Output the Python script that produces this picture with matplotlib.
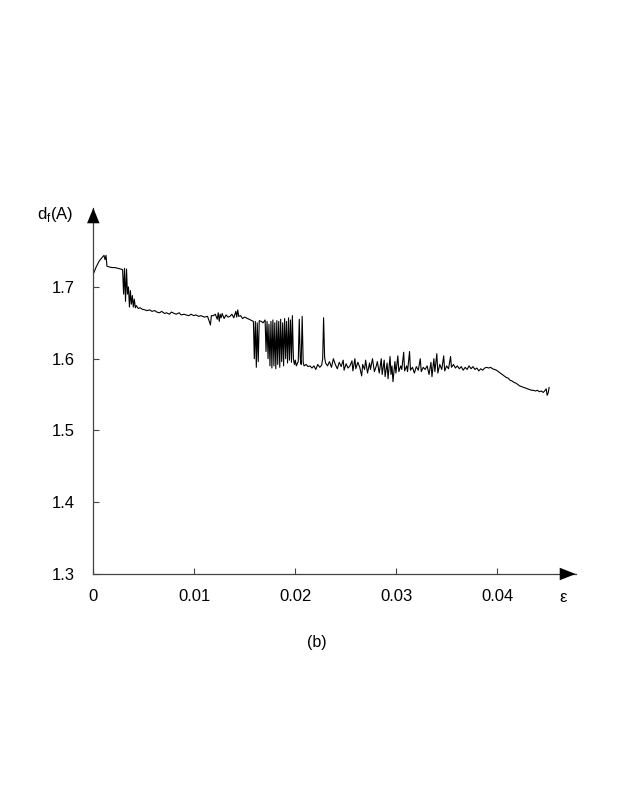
import matplotlib
matplotlib.use("Agg")
import matplotlib.pyplot as plt

plt.rcParams['font.family'] = ['Liberation Sans', 'DejaVu Sans']

# strain (epsilon) and d_f(A)
eps = [
    0.00000, 0.00029, 0.00058, 0.00087, 0.00106, 0.00116, 0.00126, 0.00135, 0.00155, 0.00184,
    0.00213, 0.00242, 0.00271, 0.00290, 0.00300, 0.00309, 0.00319, 0.00329, 0.00338, 0.00348,
    0.00358, 0.00367, 0.00377, 0.00387, 0.00396, 0.00406, 0.00416, 0.00425, 0.00445, 0.00464,
    0.00483, 0.00512, 0.00531, 0.00560, 0.00580, 0.00609, 0.00628, 0.00657, 0.00676, 0.00705,
    0.00725, 0.00754, 0.00773, 0.00802, 0.00821, 0.00850, 0.00870, 0.00899, 0.00918, 0.00947,
    0.00966, 0.00995, 0.01015, 0.01044, 0.01063, 0.01082, 0.01102, 0.01131, 0.01160, 0.01169,
    0.01189, 0.01208, 0.01227, 0.01237, 0.01247, 0.01256, 0.01266, 0.01276, 0.01295, 0.01314,
    0.01333, 0.01353, 0.01372, 0.01391, 0.01411, 0.01420, 0.01430, 0.01440, 0.01459, 0.01478,
    0.01498, 0.01527, 0.01556, 0.01585, 0.01594, 0.01604, 0.01614, 0.01623, 0.01633, 0.01643,
    0.01662, 0.01681, 0.01701, 0.01710, 0.01720, 0.01730, 0.01739, 0.01749, 0.01759, 0.01768,
    0.01778, 0.01788, 0.01797, 0.01807, 0.01817, 0.01826, 0.01836, 0.01846, 0.01855, 0.01865,
    0.01875, 0.01884, 0.01894, 0.01904, 0.01913, 0.01923, 0.01933, 0.01942, 0.01952, 0.01962,
    0.01971, 0.01981, 0.01991, 0.02000, 0.02010, 0.02029, 0.02039, 0.02049, 0.02058, 0.02068,
    0.02078, 0.02087, 0.02107, 0.02126, 0.02145, 0.02165, 0.02184, 0.02203, 0.02222, 0.02242,
    0.02261, 0.02271, 0.02280, 0.02290, 0.02300, 0.02319, 0.02338, 0.02358, 0.02377, 0.02396,
    0.02416, 0.02435, 0.02454, 0.02474, 0.02483, 0.02503, 0.02522, 0.02541, 0.02561, 0.02570,
    0.02590, 0.02599, 0.02619, 0.02638, 0.02657, 0.02667, 0.02686, 0.02696, 0.02715, 0.02735,
    0.02744, 0.02764, 0.02783, 0.02802, 0.02812, 0.02831, 0.02851, 0.02860, 0.02880, 0.02889,
    0.02909, 0.02918, 0.02938, 0.02947, 0.02957, 0.02967, 0.02986, 0.02996, 0.03015, 0.03025,
    0.03044, 0.03054, 0.03073, 0.03082, 0.03102, 0.03111, 0.03131, 0.03140, 0.03160, 0.03179,
    0.03198, 0.03218, 0.03237, 0.03247, 0.03266, 0.03285, 0.03305, 0.03324, 0.03343, 0.03353,
    0.03372, 0.03382, 0.03401, 0.03411, 0.03430, 0.03450, 0.03469, 0.03479, 0.03498, 0.03517,
    0.03537, 0.03546, 0.03566, 0.03585, 0.03604, 0.03624, 0.03643, 0.03662, 0.03682, 0.03701,
    0.03720, 0.03740, 0.03759, 0.03778, 0.03798, 0.03817, 0.03836, 0.03855, 0.03875, 0.03894,
    0.03914, 0.03933, 0.03952, 0.03972, 0.03991, 0.04010, 0.04030, 0.04049, 0.04068, 0.04087,
    0.04107, 0.04126, 0.04145, 0.04165, 0.04184, 0.04203, 0.04223, 0.04242, 0.04261, 0.04281,
    0.04300, 0.04319, 0.04339, 0.04358, 0.04377, 0.04397, 0.04416, 0.04435, 0.04455, 0.04474,
    0.04484, 0.04493, 0.04503, 0.04513,
]
df = [
    1.718, 1.728, 1.736, 1.741, 1.744, 1.738, 1.744, 1.729, 1.728, 1.727,
    1.727, 1.726, 1.725, 1.724, 1.690, 1.726, 1.680, 1.725, 1.690, 1.700,
    1.672, 1.695, 1.676, 1.688, 1.672, 1.683, 1.671, 1.674, 1.670, 1.671,
    1.669, 1.668, 1.667, 1.668, 1.666, 1.667, 1.665, 1.664, 1.666, 1.663,
    1.664, 1.662, 1.665, 1.663, 1.662, 1.664, 1.661, 1.662, 1.661, 1.660,
    1.662, 1.660, 1.661, 1.659, 1.660, 1.659, 1.658, 1.659, 1.647, 1.660,
    1.660, 1.662, 1.655, 1.664, 1.652, 1.662, 1.657, 1.663, 1.656, 1.661,
    1.658, 1.659, 1.662, 1.657, 1.666, 1.658, 1.668, 1.659, 1.660, 1.656,
    1.658, 1.656, 1.654, 1.652, 1.600, 1.652, 1.588, 1.650, 1.596, 1.653,
    1.652, 1.650, 1.654, 1.610, 1.652, 1.600, 1.648, 1.590, 1.652, 1.587,
    1.654, 1.590, 1.650, 1.586, 1.653, 1.592, 1.652, 1.588, 1.655, 1.596,
    1.650, 1.590, 1.656, 1.600, 1.652, 1.594, 1.657, 1.598, 1.654, 1.595,
    1.660, 1.600, 1.592, 1.598, 1.590, 1.596, 1.655, 1.600, 1.592, 1.659,
    1.595, 1.590, 1.592, 1.589, 1.590, 1.587, 1.590, 1.585, 1.592, 1.588,
    1.591, 1.600, 1.657, 1.602, 1.594, 1.590, 1.596, 1.588, 1.600, 1.592,
    1.586, 1.595, 1.589, 1.598, 1.584, 1.593, 1.587, 1.590, 1.597, 1.583,
    1.600, 1.586, 1.595, 1.588, 1.576, 1.592, 1.585, 1.598, 1.580, 1.594,
    1.585, 1.600, 1.582, 1.590, 1.596, 1.580, 1.600, 1.578, 1.598, 1.575,
    1.594, 1.572, 1.603, 1.578, 1.590, 1.568, 1.596, 1.580, 1.604, 1.582,
    1.590, 1.585, 1.609, 1.583, 1.590, 1.582, 1.610, 1.584, 1.588, 1.580,
    1.589, 1.584, 1.600, 1.582, 1.588, 1.585, 1.590, 1.578, 1.595, 1.575,
    1.600, 1.582, 1.607, 1.580, 1.592, 1.585, 1.604, 1.583, 1.590, 1.586,
    1.603, 1.588, 1.592, 1.587, 1.590, 1.586, 1.589, 1.584, 1.588, 1.585,
    1.590, 1.586, 1.589, 1.585, 1.587, 1.583, 1.586, 1.584, 1.587, 1.588,
    1.587, 1.588, 1.586, 1.585, 1.584, 1.582, 1.580, 1.578, 1.576, 1.574,
    1.573, 1.570, 1.569, 1.567, 1.566, 1.564, 1.562, 1.561, 1.560, 1.559,
    1.558, 1.557, 1.556, 1.556, 1.555, 1.556, 1.554, 1.555, 1.553, 1.556,
    1.558, 1.549, 1.552, 1.560,
]

xticks = [0, 0.01, 0.02, 0.03, 0.04]
xlabels = ['0', '0.01', '0.02', '0.03', '0.04']
yticks = [1.3, 1.4, 1.5, 1.6, 1.7]
ylabels = ['1.3', '1.4', '1.5', '1.6', '1.7']

fig = plt.figure(figsize=(6.23, 8.06), dpi=100)
ax = fig.add_axes([93.3 / 623, 232 / 806, 482.4 / 623, 366 / 806])

ax.plot(eps, df, color='black', lw=0.8)

ax.set_xlim(0, 0.04776)
ax.set_ylim(1.3, 1.81)
ax.set_xticks(xticks)
ax.set_xticklabels(xlabels)
ax.set_yticks(yticks)
ax.set_yticklabels(ylabels)
ax.tick_params(direction='in', length=4, width=0.8, color='#444444',
               labelsize=12)
ax.tick_params(axis='x', pad=11)
ax.tick_params(axis='y', pad=13)

for side in ['top', 'right']:
    ax.spines[side].set_visible(False)
for side in ['left', 'bottom']:
    ax.spines[side].set_linewidth(0.9)
    ax.spines[side].set_color('#444444')

# arrow heads on the axes
ax.annotate('', xy=(1.0, 0), xytext=(0.96, 0), xycoords='axes fraction',
            arrowprops=dict(facecolor='black', edgecolor='black', width=0.01,
                            headwidth=9, headlength=11.5, shrink=0, lw=0))
ax.annotate('', xy=(0, 1.0), xytext=(0, 0.95), xycoords='axes fraction',
            arrowprops=dict(facecolor='black', edgecolor='black', width=0.01,
                            headwidth=9, headlength=11, shrink=0, lw=0))

fig.text(73 / 623, 1 - 215 / 806, r'd$_\mathregular{f}$(A)', fontsize=12,
         ha='right', va='center')
fig.text(563 / 623, 1 - 598 / 806, 'ε', fontsize=12, ha='center', va='center')
fig.text(316.5 / 623, 1 - 643 / 806, '(b)', fontsize=11.5, ha='center', va='center')

fig.savefig('out.png', dpi=100)
